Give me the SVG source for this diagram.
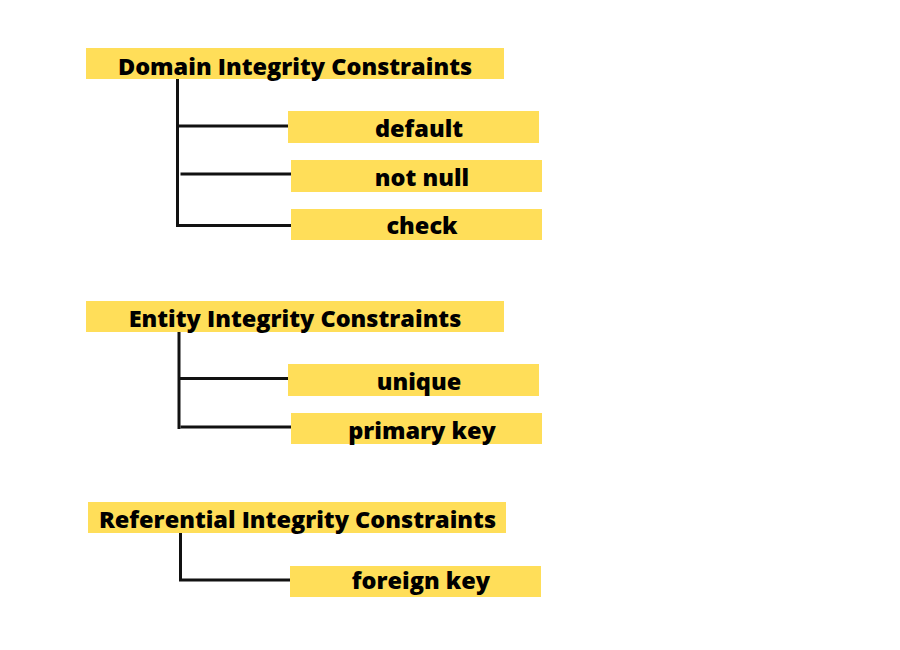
<svg xmlns="http://www.w3.org/2000/svg" width="900" height="650" viewBox="0 0 900 650">
<style>
.box{fill:#FFDE59}
.t{font-family:"Open Sans","Noto Sans","Liberation Sans",sans-serif;font-weight:800;font-size:23.5px;fill:#000;text-anchor:middle}
.c{stroke:#111;stroke-width:3;fill:none}
</style>
<rect width="900" height="650" fill="#fff"/>
<g id="connectors">
<path class="c" d="M177.5 79V225.5H291"/>
<path class="c" d="M177.5 126H288"/>
<path class="c" d="M180.5 174H291"/>
<path class="c" d="M179 332V429"/>
<path class="c" d="M179 378.5H288"/>
<path class="c" d="M180.5 427H291"/>
<path class="c" d="M180.5 533V580H290"/>
</g>
<g id="domain"><rect class="box" x="86" y="48" width="418" height="31"/><text class="t" x="295" y="74.5">Domain Integrity Constraints</text></g>
<g id="default"><rect class="box" x="288" y="111" width="251" height="32"/><text class="t" x="419" y="136.5">default</text></g>
<g id="notnull"><rect class="box" x="291" y="160" width="251" height="32"/><text class="t" x="422" y="185.5">not null</text></g>
<g id="check"><rect class="box" x="291" y="209" width="251" height="31"/><text class="t" x="422" y="234">check</text></g>
<g id="entity"><rect class="box" x="86" y="301" width="418" height="31"/><text class="t" x="295" y="327">Entity Integrity Constraints</text></g>
<g id="unique"><rect class="box" x="288" y="364" width="251" height="32"/><text class="t" x="419" y="390">unique</text></g>
<g id="primarykey"><rect class="box" x="291" y="413" width="251" height="31"/><text class="t" x="422" y="438.5">primary key</text></g>
<g id="referential"><rect class="box" x="88" y="502" width="418" height="31"/><text class="t" x="297.5" y="528">Referential Integrity Constraints</text></g>
<g id="foreignkey"><rect class="box" x="290" y="566" width="251" height="31"/><text class="t" x="421" y="589">foreign key</text></g>
</svg>
